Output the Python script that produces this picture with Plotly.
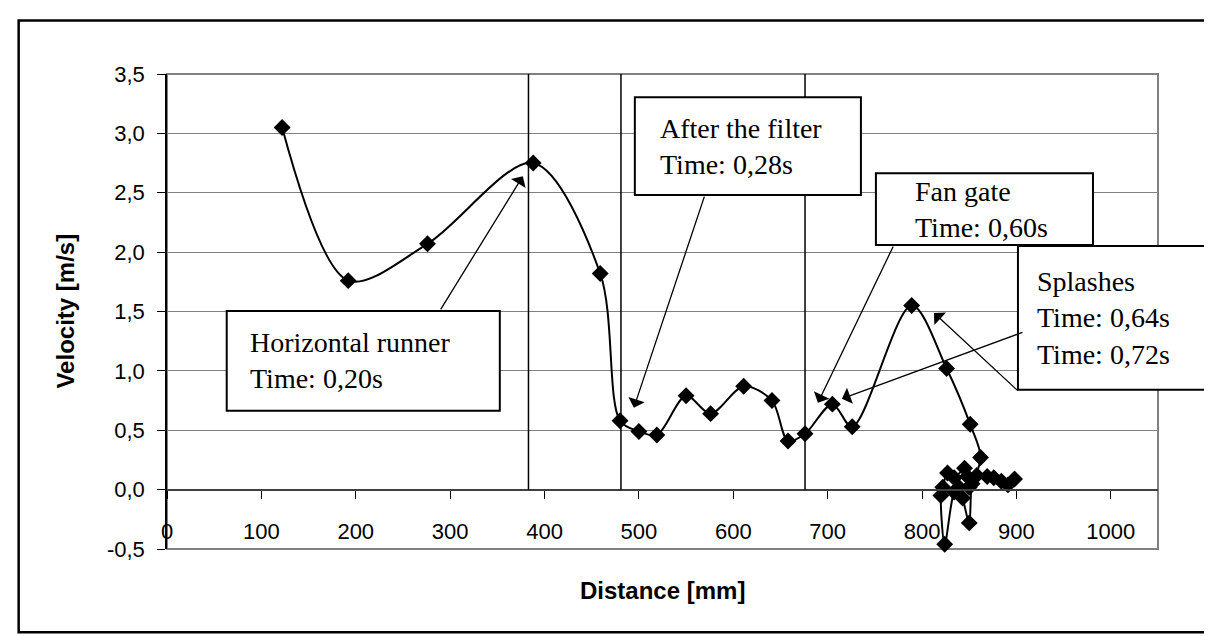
import plotly.graph_objects as go

# ---- data ----
distance_mm = [122, 192, 276, 388, 459, 480, 500, 519, 550, 576, 611, 641, 658, 676, 705, 726,
               789, 826, 851, 862, 850, 848, 845, 834, 827, 822, 820, 824, 834, 839, 843, 850,
               853, 858, 869, 876, 884, 891, 898]
velocity_ms = [3.05, 1.76, 2.07, 2.75, 1.82, 0.58, 0.49, 0.46, 0.79, 0.64, 0.87, 0.75, 0.41, 0.47, 0.72, 0.53,
               1.55, 1.02, 0.55, 0.27, 0.02, 0.11, 0.18, 0.10, 0.14, 0.02, -0.05, -0.46, -0.02, 0.02, -0.07, -0.28,
               0.05, 0.12, 0.11, 0.10, 0.07, 0.04, 0.09]

marker_lines_x = [383, 481, 676]

y_tickvals = [-0.5, 0, 0.5, 1.0, 1.5, 2.0, 2.5, 3.0, 3.5]
y_ticktext = ["-0,5", "0,0", "0,5", "1,0", "1,5", "2,0", "2,5", "3,0", "3,5"]
x_tickvals = [0, 100, 200, 300, 400, 500, 600, 700, 800, 900, 1000]

box_texts = [
    "Horizontal runner<br>Time: 0,20s",
    "After the filter<br>Time: 0,28s",
    "Fan gate<br>Time: 0,60s",
    "Splashes<br>Time: 0,64s<br>Time: 0,72s",
]
x_title = "Distance [mm]"
y_title = "Velocity [m/s]"

# ---- geometry helpers (pixel layout of the reference) ----
W, H = 1212, 636
L, R, T, B = 159.3, 1150.0, 65.7, 541.5
X_PER_PX = 1050 / (R - L)
Y_PER_PX = 4.0 / (B - T)


def px(xp):
    return (xp - L) / (R - L)


def py(yp):
    return (B - yp) / (B - T)


def dx(xp):
    return (xp - L) * X_PER_PX


def dy(yp):
    return 3.5 - (yp - T) * Y_PER_PX


fig = go.Figure()
fig.add_trace(go.Scatter(
    x=distance_mm, y=velocity_ms, mode="lines+markers",
    line=dict(color="black", width=2, shape="spline", smoothing=0.9),
    marker=dict(symbol="diamond", size=13, color="black"),
    showlegend=False, cliponaxis=False,
))

shapes = []
shapes.append(dict(type="rect", xref="paper", yref="paper", x0=px(11), x1=px(1201), y0=py(625), y1=py(12),
                   line=dict(color="black", width=2.5), layer="below"))
shapes.append(dict(type="rect", xref="paper", yref="paper", x0=0, x1=1, y0=0, y1=1,
                   line=dict(color="#808080", width=2), layer="below"))
for xv in marker_lines_x:
    shapes.append(dict(type="line", xref="x", yref="y", x0=xv, x1=xv, y0=0, y1=3.5,
                       line=dict(color="black", width=1.5)))

boxes = [(219, 303, 492, 403), (627, 89, 853, 187), (868, 165, 1085, 237), (1010, 238, 1200, 382)]
for (x0, y0, x1, y1) in boxes:
    shapes.append(dict(type="rect", xref="paper", yref="paper", x0=px(x0), x1=px(x1), y0=py(y1), y1=py(y0),
                       line=dict(color="black", width=2), fillcolor="white", layer="above"))

annotations = []
text_pos = [(240, 353), (650, 138), (905, 201), (1027, 310)]
for (tx, ty), txt in zip(text_pos, box_texts):
    annotations.append(dict(xref="paper", yref="paper", x=px(tx), y=py(ty), xanchor="left", yanchor="middle",
                            text=txt, showarrow=False, align="left",
                            font=dict(family="Liberation Serif, Times New Roman, serif", size=28, color="black")))

# arrows: (head px, head py, tail px, tail py) in reference pixels
arrows = [(515, 168, 432, 303), (626, 400, 697, 187), (810, 395, 886, 237),
          (834, 391, 1016, 324), (926, 305, 1011, 384)]
for hx, hy, tx, ty in arrows:
    annotations.append(dict(x=dx(hx), y=dy(hy), ax=dx(tx), ay=dy(ty), xref="x", yref="y", axref="x", ayref="y",
                            text="", showarrow=True, arrowhead=1, arrowsize=2.2, arrowwidth=1.3,
                            arrowcolor="black"))

annotations.append(dict(xref="paper", yref="paper", x=px(655), y=py(583), text="<b>" + x_title + "</b>",
                        showarrow=False, xanchor="center", yanchor="middle",
                        font=dict(size=24, family="Arial, Liberation Sans, sans-serif", color="black")))
annotations.append(dict(xref="paper", yref="paper", x=px(58), y=py(303), text="<b>" + y_title + "</b>",
                        showarrow=False, xanchor="center", yanchor="middle", textangle=-90,
                        font=dict(size=24, family="Arial, Liberation Sans, sans-serif", color="black")))

fig.update_layout(
    width=W, height=H, paper_bgcolor="white", plot_bgcolor="white",
    margin=dict(l=L, r=W - R, t=T, b=H - B),
    shapes=shapes, annotations=annotations,
    font=dict(family="Arial, Liberation Sans, sans-serif", color="black"),
    xaxis=dict(range=[0, 1050], tickvals=x_tickvals, ticks="outside", ticklen=8, tickcolor="black",
               showgrid=False, zeroline=False, showline=True, linecolor="#404040", linewidth=2,
               anchor="free", position=py(481.9), ticklabelstandoff=14,
               tickfont=dict(size=22, family="Arial, Liberation Sans, sans-serif")),
    yaxis=dict(range=[-0.5, 3.5], tickvals=y_tickvals, ticktext=y_ticktext, ticks="outside", ticklen=8,
               tickcolor="black", showgrid=True, gridcolor="#808080", gridwidth=1, zeroline=False,
               showline=True, linecolor="black", linewidth=1.5, ticklabelstandoff=8,
               tickfont=dict(size=22, family="Arial, Liberation Sans, sans-serif")),
)

fig.write_html("out.html")
